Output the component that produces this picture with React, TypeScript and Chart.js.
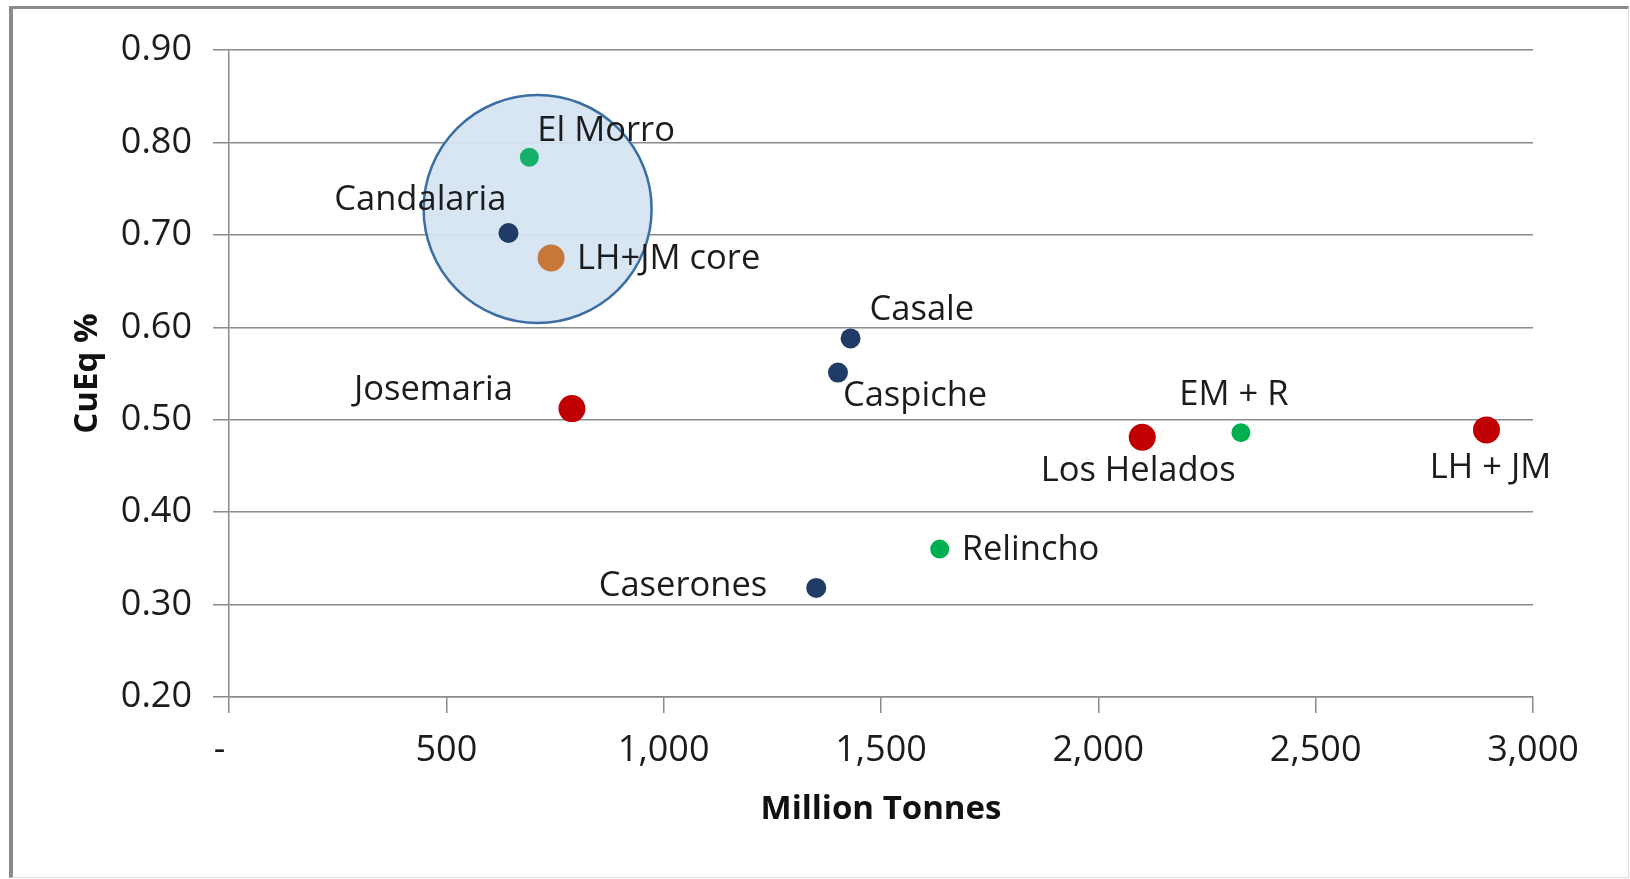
import React, { useEffect, useRef } from "react";
import { Chart, registerables } from "chart.js";

Chart.register(...registerables);

// ---- Data ----
const projectNames = [
  "El Morro",
  "Candalaria",
  "LH+JM core",
  "Casale",
  "Caspiche",
  "Josemaria",
  "Los Helados",
  "EM + R",
  "LH + JM",
  "Relincho",
  "Caserones",
];
const millionTonnes = [691, 643, 741, 1430, 1401, 789, 2101, 2328, 2893, 1635, 1351];
const cuEqPercent = [0.784, 0.702, 0.675, 0.588, 0.551, 0.512, 0.481, 0.486, 0.489, 0.36, 0.318];
const projectGroup = ["teal", "navy", "orange", "navy", "navy", "red", "red", "green", "red", "green", "navy"];

const highlightCenterX = [710];
const highlightCenterY = [0.728];

const xTicks = [0, 500, 1000, 1500, 2000, 2500, 3000];
const xTickLabels = ["-  ", "500", "1,000", "1,500", "2,000", "2,500", "3,000"];
const yTicks = [0.2, 0.3, 0.4, 0.5, 0.6, 0.7, 0.8, 0.9];
const yTickLabels = ["0.20", "0.30", "0.40", "0.50", "0.60", "0.70", "0.80", "0.90"];

const xTitle = "Million Tonnes";
const yTitle = "CuEq %";

// ---- Styles ----
const groupColor: Record<string, string> = {
  teal: "#17b06b",
  green: "#00b050",
  navy: "#1f3b66",
  red: "#c00000",
  orange: "#c8773a",
};
const groupRadius: Record<string, number> = {
  teal: 9.5,
  green: 9.5,
  navy: 10,
  red: 13.5,
  orange: 13.5,
};
// label placement per point: [align, dx, dy]
const labelPlacement: [CanvasTextAlign, number, number][] = [
  ["left", 8, -26],
  ["right", -2, -33],
  ["left", 26, 1],
  ["left", 19, -28],
  ["left", 5, 24],
  ["right", -59, -18],
  ["center", -4, 34],
  ["center", -7, -37],
  ["center", 4, 38],
  ["left", 22, 1],
  ["right", -49, -2],
];

const FONT = "'Open Sans', 'Noto Sans', sans-serif";
const GRID = "#8a8a8a";
const TEXT = "#1c1c1c";

const labelPlugin = {
  id: "pointLabels",
  afterDatasetsDraw(chart: any) {
    const { ctx, scales } = chart;
    ctx.save();
    ctx.font = `34.5px ${FONT}`;
    ctx.fillStyle = TEXT;
    ctx.textBaseline = "middle";
    projectNames.forEach((name, i) => {
      const px = scales.x.getPixelForValue(millionTonnes[i]);
      const py = scales.y.getPixelForValue(cuEqPercent[i]);
      const [align, dx, dy] = labelPlacement[i];
      ctx.textAlign = align;
      ctx.fillText(name, px + dx, py + dy);
    });
    ctx.restore();
  },
};

export default function App() {
  const canvasRef = useRef<HTMLCanvasElement | null>(null);

  useEffect(() => {
    if (!canvasRef.current) return;
    const chart = new Chart(canvasRef.current, {
      type: "scatter",
      data: {
        datasets: [
          {
            label: "Projects",
            data: millionTonnes.map((x, i) => ({ x, y: cuEqPercent[i] })),
            backgroundColor: projectGroup.map((g) => groupColor[g]),
            borderColor: projectGroup.map((g) => groupColor[g]),
            borderWidth: 0,
            pointRadius: projectGroup.map((g) => groupRadius[g]),
            pointHoverRadius: projectGroup.map((g) => groupRadius[g]),
            order: 0,
          },
          {
            label: "Highlight",
            data: highlightCenterX.map((x, i) => ({ x, y: highlightCenterY[i] })),
            backgroundColor: "rgba(214,229,243,0.95)",
            borderColor: "#3b6ea3",
            borderWidth: 2.5,
            pointRadius: 114,
            pointHoverRadius: 114,
            order: 10,
          },
        ],
      },
      options: {
        animation: false,
        responsive: false,
        events: [],
        layout: { autoPadding: false, padding: { left: 0, right: 97, top: 50, bottom: 0 } },
        plugins: {
          legend: { display: false },
          tooltip: { enabled: false },
        },
        scales: {
          x: {
            type: "linear",
            min: 0,
            max: 3000,
            afterFit: (scale: any) => {
              scale.height = 182;
            },
            afterBuildTicks: (scale: any) => {
              scale.ticks = xTicks.map((v) => ({ value: v }));
            },
            ticks: {
              padding: 16,
              color: TEXT,
              font: { family: FONT, size: 36 },
              maxRotation: 0,
              autoSkip: false,
              callback: (_v: any, i: number) => xTickLabels[i],
            },
            grid: {
              drawOnChartArea: false,
              drawTicks: true,
              tickLength: 16,
              color: GRID,
              lineWidth: 1.5,
            },
            border: { display: true, color: GRID, width: 1.5 },
            title: {
              display: true,
              text: xTitle,
              color: "#111",
              font: { family: FONT, size: 33, weight: "bold" },
              padding: { top: 0, bottom: 50 },
            },
          },
          y: {
            type: "linear",
            min: 0.2,
            max: 0.9,
            afterFit: (scale: any) => {
              scale.width = 229;
            },
            afterBuildTicks: (scale: any) => {
              scale.ticks = yTicks.map((v) => ({ value: v }));
            },
            ticks: {
              padding: 21,
              color: TEXT,
              font: { family: FONT, size: 36 },
              autoSkip: false,
              callback: (_v: any, i: number) => yTickLabels[i],
            },
            grid: {
              drawOnChartArea: true,
              drawTicks: true,
              tickLength: 16,
              color: GRID,
              lineWidth: 1.5,
            },
            border: { display: true, color: GRID, width: 1.5 },
            title: {
              display: true,
              text: yTitle,
              color: "#111",
              font: { family: FONT, size: 33, weight: "bold" },
              padding: { top: 68, bottom: 0 },
            },
          },
        },
      },
      plugins: [labelPlugin],
    });
    return () => chart.destroy();
  }, []);

  return (
    <div style={{ position: "fixed", left: 0, top: 0, width: 1630, height: 879, background: "#fff" }}>
      <div
        style={{
          position: "absolute",
          left: 9,
          top: 6,
          width: 1620,
          height: 872,
          borderLeft: "4px solid #8a8a8a",
          borderTop: "3px solid #8a8a8a",
          borderRight: "1px solid #e0e0e0",
          borderBottom: "1px solid #e0e0e0",
          boxSizing: "border-box",
        }}
      />
      <canvas
        ref={canvasRef}
        width={1630}
        height={879}
        style={{ position: "absolute", left: 0, top: 0, display: "block" }}
      />
    </div>
  );
}
